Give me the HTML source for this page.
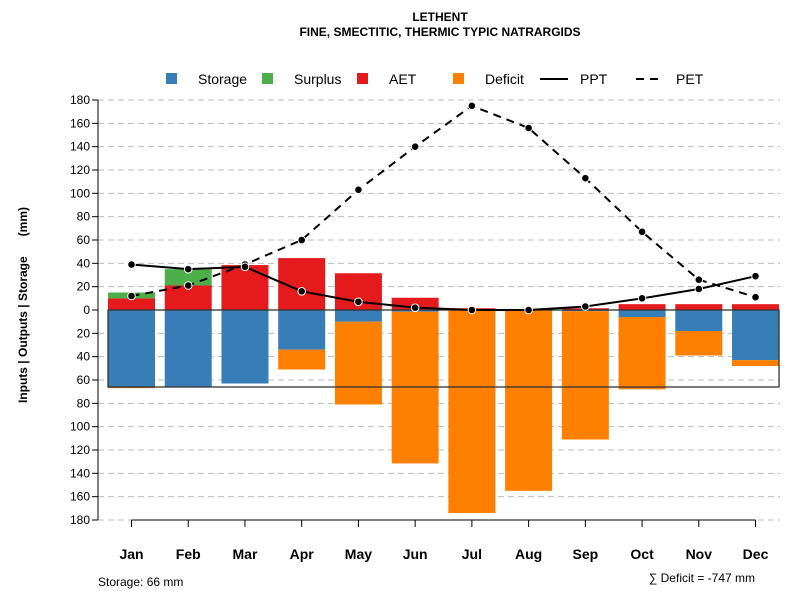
<!DOCTYPE html>
<html><head><meta charset="utf-8"><style>
body{margin:0;background:#fff;}
svg text{font-family:"Liberation Sans",sans-serif;}
</style></head><body>
<svg id="c" width="800" height="600" xmlns="http://www.w3.org/2000/svg">
<text x="440" y="21" text-anchor="middle" font-size="12" font-weight="bold">LETHENT</text>
<text x="440" y="36" text-anchor="middle" font-size="12" font-weight="bold">FINE, SMECTITIC, THERMIC TYPIC NATRARGIDS</text>
<g id="grid"></g><g id="bars"></g><g id="lines"></g><g id="axes"></g>
<g font-size="14">
<rect x="166" y="73" width="11" height="11" fill="#377eb8"/><text x="198" y="84">Storage</text>
<rect x="262" y="73" width="11" height="11" fill="#4daf4a"/><text x="294" y="84">Surplus</text>
<rect x="357" y="73" width="11" height="11" fill="#e41a1c"/><text x="389" y="84">AET</text>
<rect x="453" y="73" width="11" height="11" fill="#ff7f00"/><text x="485" y="84">Deficit</text>
<line x1="540" y1="79" x2="568" y2="79" stroke="#000" stroke-width="2"/><text x="580" y="84">PPT</text>
<line x1="636" y1="79" x2="664" y2="79" stroke="#000" stroke-width="2" stroke-dasharray="8,6"/><text x="676" y="84">PET</text>
</g>
<text transform="translate(27,305) rotate(-90)" text-anchor="middle" font-size="12" font-weight="bold" style="white-space:pre">Inputs | Outputs | Storage      (mm)</text>
<text x="98" y="586" font-size="12">Storage: 66 mm</text>
<text x="755" y="582" text-anchor="end" font-size="12">∑ Deficit = -747 mm</text>
</svg>
<script>
const months=["Jan","Feb","Mar","Apr","May","Jun","Jul","Aug","Sep","Oct","Nov","Dec"];
const aet=[10,21,38.5,44.5,31.5,10.5,1.5,0.5,1.5,5,5,5];
const surplus=[5,14,0,0,0,0,0,0,0,0,0,0];
const storageUse=[66,66,63,34,10,1.5,0,0,1,6,18,43];
const deficit=[1,0,0,17,71,130,174,155,110,62,21,5];
const ppt=[39,35,37,16,7,2,0,0,3,10,18,29];
const pet=[12,21,39,60,103,140,175,156,113,67,26,11];
const yTicks=[-180,-160,-140,-120,-100,-80,-60,-40,-20,0,20,40,60,80,100,120,140,160,180];
const storageCap=66;
const NS="http://www.w3.org/2000/svg";
const y=v=>310-v*210/180;
const x=i=>131.5+i*56.73;
const bw=47;
function mk(tag,attrs,parent){const e=document.createElementNS(NS,tag);for(const k in attrs)e.setAttribute(k,attrs[k]);document.getElementById(parent).appendChild(e);return e;}
yTicks.forEach(t=>{
  if(t!==0){const g=mk('line',{x1:98,x2:780,y1:y(t),y2:y(t),stroke:'#bbb','stroke-dasharray':'6,4'},'grid');
  
  }
  const tk=mk('line',{x1:92,x2:98,y1:y(t),y2:y(t),stroke:'#000'},'axes');
  
  
  const tl=mk('text',{x:90,y:y(t)+4,'text-anchor':'end','font-size':12},'axes');tl.textContent=Math.abs(t);
  
  
});
const ax=mk('line',{x1:98,x2:98,y1:y(180),y2:y(-180),stroke:'#000'},'axes');


const xa=mk('line',{x1:x(0),x2:x(11),y1:520,y2:520,stroke:'#000'},'axes');


months.forEach((m,i)=>{
  const cx=x(i),l=cx-bw/2;
  const r1=mk('rect',{x:l,y:y(aet[i]),width:bw,height:y(0)-y(aet[i]),fill:'#e41a1c'},'bars');
  
  
  const r2=mk('rect',{x:l,y:y(aet[i]+surplus[i]),width:bw,height:y(aet[i])-y(aet[i]+surplus[i]),fill:'#4daf4a'},'bars');
  
  
  const r3=mk('rect',{x:l,y:y(0),width:bw,height:y(-storageUse[i])-y(0),fill:'#377eb8'},'bars');
  
  
  const r4=mk('rect',{x:l,y:y(-storageUse[i]),width:bw,height:y(-storageUse[i]-deficit[i])-y(-storageUse[i]),fill:'#ff7f00'},'bars');
  
  
  const tk=mk('line',{x1:cx,x2:cx,y1:520,y2:527,stroke:'#000'},'axes');
  
  
  const tl=mk('text',{x:cx,y:559,'text-anchor':'middle','font-size':14,'font-weight':'bold'},'axes');tl.textContent=m;
  
  
});
const sb=mk('rect',{x:x(0)-bw/2,y:y(0),width:x(11)-x(0)+bw,height:y(-storageCap)-y(0),fill:'none',stroke:'#333','stroke-width':1.3},'bars');


function series(vals,dash,name){
  const p=mk('polyline',{points:vals.map((v,i)=>x(i)+','+y(v)).join(' '),fill:'none',stroke:'#000','stroke-width':2,'stroke-dasharray':dash},'lines');
  
  
  vals.forEach((v,i)=>{const c=mk('circle',{cx:x(i),cy:y(v),r:3.8,fill:'#000',stroke:'#fff','stroke-width':1},'lines');
  
  });
}
series(pet,'8,6','pet');
series(ppt,'none','ppt');
</script>
</body></html>
